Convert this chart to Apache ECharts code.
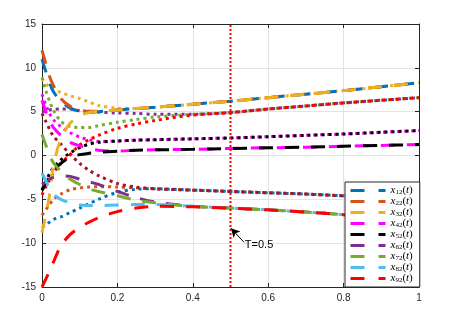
<!DOCTYPE html>
<html><head><meta charset="utf-8">
<script src="https://cdn.jsdelivr.net/npm/echarts@6/dist/echarts.min.js"></script>
<style>html,body{margin:0;padding:0;background:#fff}#c{width:457px;height:317px}</style>
</head><body><div id="c"></div>
<script>
const T = [0, 0.01, 0.02, 0.03, 0.05, 0.075, 0.1, 0.125, 0.15, 0.2, 0.25, 0.3, 0.4, 0.5, 0.6, 0.7, 0.8, 0.9, 1];
const xTicks = ['0', '0.2', '0.4', '0.6', '0.8', '1'];
const yTicks = ['-15', '-10', '-5', '0', '5', '10', '15'];

// dashed series (legend)
const x12 = [11, 9.6, 8.3, 7.3, 6.2, 5.4, 5.05, 4.95, 5.0, 5.2, 5.35, 5.5, 5.85, 6.2, 6.6, 7.0, 7.4, 7.85, 8.3];
const x22 = [12, 10.5, 9.0, 8.0, 6.5, 5.6, 5.2, 5.05, 5.05, 5.2, 5.35, 5.5, 5.85, 6.2, 6.6, 7.0, 7.4, 7.85, 8.3];
const x32 = [-8.8, -6.8, -4.5, -1.2, 1.9, 3.7, 4.5, 4.9, 5.05, 5.2, 5.35, 5.5, 5.85, 6.2, 6.6, 7.0, 7.4, 7.85, 8.3];
const x42 = [6.3, 5.0, 4.0, 3.2, 2.3, 1.5, 1.1, 0.8, 0.6, 0.5, 0.6, 0.65, 0.7, 0.8, 0.88, 0.95, 1.05, 1.15, 1.25];
const x52 = [-4.0, -3.2, -2.4, -1.8, -0.9, -0.2, 0.1, 0.25, 0.35, 0.5, 0.6, 0.65, 0.7, 0.8, 0.88, 0.95, 1.05, 1.15, 1.25];
const x62 = [-3.3, -3.0, -2.7, -2.5, -2.3, -2.4, -2.7, -3.0, -3.3, -4.1, -4.8, -5.3, -5.8, -6.0, -6.2, -6.45, -6.75, -7.0, -7.3];
const x72 = [2.4, 1.2, 0.0, -0.8, -1.8, -2.7, -3.3, -3.8, -4.1, -4.6, -5.1, -5.4, -5.8, -6.0, -6.2, -6.45, -6.75, -7.0, -7.3];
const x82 = [-2.0, -2.9, -3.8, -4.4, -5.0, -5.4, -5.65, -5.7, -5.7, -5.65, -5.6, -5.6, -5.8, -6.0, -6.2, -6.45, -6.75, -7.0, -7.3];
const x92 = [-15, -14.1, -13.2, -12.2, -10.3, -9.0, -8.2, -7.6, -7.1, -6.4, -6.0, -5.8, -5.85, -6.0, -6.2, -6.45, -6.75, -7.0, -7.3];

// dotted series (not in legend)
const dotBlue = [-8.2, -7.9, -7.6, -7.3, -7.0, -6.5, -6.0, -5.5, -5.0, -4.2, -3.85, -3.8, -3.95, -4.1, -4.25, -4.4, -4.6, -4.8, -5.0];
const dotOrange = [-6.8, -6.2, -5.6, -5.0, -4.4, -3.9, -3.7, -3.6, -3.55, -3.6, -3.7, -3.8, -3.95, -4.1, -4.25, -4.4, -4.6, -4.8, -5.0];
const dotYellow = [8.8, 8.2, 7.8, 7.5, 7.2, 6.8, 6.5, 6.1, 5.7, 5.4, 5.35, 5.5, 5.85, 6.2, 6.6, 7.0, 7.4, 7.85, 8.3];
const dotMagenta = [7.0, 5.8, 4.8, 4.1, 3.3, 2.6, 2.1, 1.8, 1.6, 1.65, 1.75, 1.8, 1.9, 2.0, 2.15, 2.3, 2.45, 2.65, 2.85];
const dotBlack = [-3.9, -3.0, -2.1, -1.4, -0.5, 0.3, 0.9, 1.3, 1.5, 1.65, 1.75, 1.8, 1.9, 2.0, 2.15, 2.3, 2.45, 2.65, 2.85];
const dotPurple = [5.0, 5.1, 5.2, 5.25, 5.3, 5.3, 5.1, 5.0, 4.95, 4.85, 4.8, 4.7, 4.7, 4.9, 5.3, 5.65, 6.0, 6.3, 6.6];
const dotGreen = [8.9, 7.4, 6.2, 5.2, 3.9, 3.3, 3.2, 3.2, 3.4, 3.8, 4.1, 4.4, 4.7, 4.9, 5.3, 5.65, 6.0, 6.3, 6.6];
const dotRed = [-4.5, -3.6, -2.8, -2.0, -0.9, 0.1, 1.2, 1.8, 2.3, 3.1, 3.6, 4.0, 4.6, 4.9, 5.3, 5.65, 6.0, 6.3, 6.6];
const dotMaroon = [4.8, 3.9, 3.0, 2.2, 1.3, 0.1, -0.9, -1.7, -2.3, -3.2, -3.6, -3.8, -3.95, -4.1, -4.25, -4.4, -4.6, -4.8, -5.0];

const markT = 0.5;
const arrowTail = [0.536, -9.9];
const arrowTip = [0.501, -8.3];
const labelPos = [0.538, -10.2];

const C = {blue:'#0072BD', orange:'#D95319', yellow:'#EDB120', magenta:'#FF00FF', black:'#000000',
  purple:'#7E2F8E', green:'#77AC30', lblue:'#4DBEEE', red:'#FF0000', maroon:'#A2142F'};

function pts(v){ return T.map((t,i)=>[t, v[i]]); }
function dotted(v, color){
  return {type:'line', data:pts(v), symbol:'none', smooth:0.3, silent:true,
    lineStyle:{color, width:3, type:[3,4]}, z:2};
}
function dashed(name, v, color){
  return {type:'line', name, data:pts(v), symbol:'none', smooth:0.3, silent:true,
    itemStyle:{color}, lineStyle:{color, width:3, type:[14,12]}, z:3};
}

const series = [
  dotted(dotBlue, C.blue), dotted(dotOrange, C.orange), dotted(dotYellow, C.yellow),
  dotted(dotMagenta, C.magenta), dotted(dotBlack, C.black), dotted(dotPurple, C.purple),
  dotted(dotGreen, C.green), dotted(dotMaroon, C.maroon), dotted(dotRed, C.red),
  dashed('x12(t)', x12, C.blue), dashed('x22(t)', x22, C.orange), dashed('x32(t)', x32, C.yellow),
  dashed('x42(t)', x42, C.magenta), dashed('x52(t)', x52, C.black), dashed('x62(t)', x62, C.purple),
  dashed('x72(t)', x72, C.green), dashed('x82(t)', x82, C.lblue), dashed('x92(t)', x92, C.red),
  {type:'line', data:[[markT,-15],[markT,15]], symbol:'none', silent:true, z:5,
   lineStyle:{color:'#FF0000', width:2, type:[2,2]},
   markLine:{silent:true, symbol:['none','arrow'], symbolSize:[7,9], animation:false,
     lineStyle:{color:'#000', width:1, type:'solid'}, label:{show:false},
     data:[[{coord:arrowTail},{coord:arrowTip}]]},
   markPoint:{silent:true, symbol:'circle', symbolSize:0, animation:false,
     label:{show:true, position:'right', distance:0, formatter:'T=0.5', color:'#000',
       fontFamily:'Liberation Sans, Arial', fontSize:11},
     data:[{coord:labelPos}]}
  }
];

const axisCommon = {
  axisLine:{show:true, onZero:false, lineStyle:{color:'#262626', width:1}},
  axisTick:{show:true, inside:true, length:4, lineStyle:{color:'#262626'}},
};

const chart = echarts.init(document.getElementById('c'), null, {renderer:'canvas'});
chart.setOption({
  animation:false,
  backgroundColor:'#fff',
  grid:{left:42, right:38, top:24, bottom:30, containLabel:false},
  legend:{
    data:['x12(t)','x22(t)','x32(t)','x42(t)','x52(t)','x62(t)','x72(t)','x82(t)','x92(t)'],
    orient:'vertical', left:345, top:182, padding:[3,7,3,4], itemGap:0,
    itemWidth:35, itemHeight:11, backgroundColor:'#fff', borderColor:'#262626', borderWidth:1,
    borderRadius:0, selectedMode:false,
    lineStyle:{type:[14,14], width:3},
    itemStyle:{opacity:0, borderWidth:0},
    formatter:function(n){ const m=n.match(/^x(\d+)\(t\)$/); return '{i|x}{s|'+m[1]+'}{n|(}{i|t}{n|)}'; },
    textStyle:{color:'#000', fontSize:10, lineHeight:11,
      rich:{
        i:{fontFamily:'Liberation Serif', fontStyle:'italic', fontSize:11, color:'#000', lineHeight:11},
        s:{fontFamily:'Liberation Serif', fontSize:7, color:'#000', verticalAlign:'bottom', lineHeight:11, padding:[3,0,0,0]},
        n:{fontFamily:'Liberation Serif', fontSize:11, color:'#000', lineHeight:11}
      }}
  },
  xAxis:[
    Object.assign({type:'value', min:0, max:1, interval:0.2, position:'bottom',
      splitLine:{show:true, lineStyle:{color:'#e3e3e3', width:1}},
      axisLabel:{color:'#262626', fontFamily:'Liberation Sans, Arial', fontSize:10, margin:6,
        formatter:function(v){ const i=Math.round(v/0.2); return xTicks[i]; }}}, axisCommon),
    Object.assign({type:'value', min:0, max:1, interval:0.2, position:'top',
      splitLine:{show:false}, axisLabel:{show:false}}, axisCommon)
  ],
  yAxis:[
    Object.assign({type:'value', min:-15, max:15, interval:5, position:'left',
      splitLine:{show:true, lineStyle:{color:'#e3e3e3', width:1}},
      axisLabel:{color:'#262626', fontFamily:'Liberation Sans, Arial', fontSize:10, margin:6,
        formatter:function(v){ const i=Math.round((v+15)/5); return yTicks[i]; }}}, axisCommon),
    Object.assign({type:'value', min:-15, max:15, interval:5, position:'right',
      splitLine:{show:false}, axisLabel:{show:false}}, axisCommon)
  ],
  series
});
</script></body></html>
